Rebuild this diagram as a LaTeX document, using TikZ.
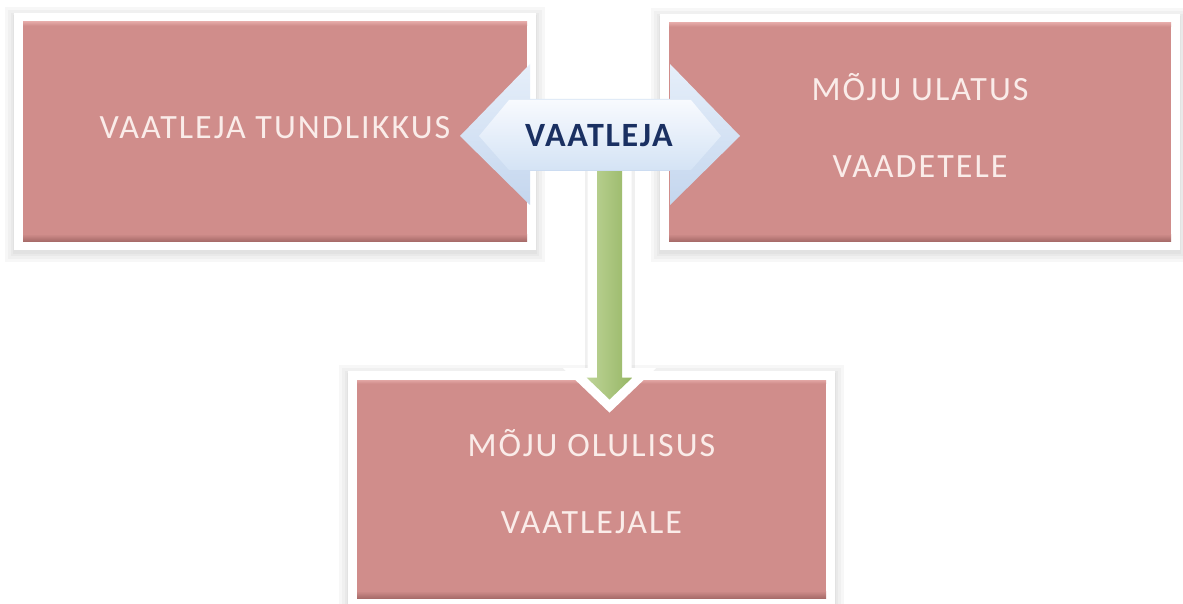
\documentclass[tikz,border=0pt]{standalone}
\usepackage{fontspec}
\setmainfont{Carlito}
\newfontfamily\boxfont[LetterSpace=6]{Carlito}
\newfontfamily\hubfont[LetterSpace=5]{Carlito}
\usetikzlibrary{calc}
\definecolor{boxpink}{RGB}{208,141,139}
\definecolor{boxpinkdark}{RGB}{168,108,106}
\definecolor{boxpinklight}{RGB}{226,166,164}
\definecolor{boxtext}{RGB}{250,236,233}
\definecolor{navy}{RGB}{26,48,98}
\definecolor{ablueT}{RGB}{230,239,250}
\definecolor{ablueB}{RGB}{196,214,238}
\definecolor{afaceT}{RGB}{248,250,254}
\definecolor{afaceB}{RGB}{212,227,245}
\definecolor{agreen}{RGB}{150,182,100}
\definecolor{agreenL}{RGB}{190,212,152}
\definecolor{shadowgray}{RGB}{110,110,110}
\tikzset{
  box/.style={draw=white, line width=9pt, fill=boxpink, inner sep=0pt, outer sep=0pt},
  boxtxt/.style={text=boxtext, font=\boxfont\fontsize{34}{77}\selectfont, align=center, inner sep=0pt},
  hubtxt/.style={text=navy, font=\hubfont\bfseries\fontsize{34}{36}\selectfont, inner sep=0pt},
  softshadow/.style={fill=shadowgray, opacity=0.05},
}
\begin{document}
\begin{tikzpicture}[x=1pt,y=-1pt]
\useasboundingbox (0,0) rectangle (1183,604);
\fill[white] (0,0) rectangle (1183,604);
% soft shadows of the boxes
\foreach \cx/\cy/\w/\h in {275/131.5/522/237, 920/132/520/236, 591.5/489/487/236}{
  \foreach \e in {9,6,3,1}{
    \fill[softshadow] ($(\cx,\cy)+(-\w/2-\e,-\h/2-\e+3)$) rectangle ($(\cx,\cy)+(\w/2+\e,\h/2+\e+3)$);
  }
}
% boxes
\node[box, minimum width=513pt, minimum height=228pt] (b1) at (275,131.5) {};
\node[box, minimum width=511pt, minimum height=227pt] (b2) at (920,132) {};
\node[box, minimum width=478pt, minimum height=227pt] (b3) at (591.5,489) {};
% bevel bands
\foreach \b in {b1,b2,b3}{
  \shade[top color=boxpink, bottom color=boxpinkdark] ($(\b.south west)+(4.5,-11.5)$) rectangle ($(\b.south east)+(-4.5,-4.5)$);
  \shade[top color=boxpinklight, bottom color=boxpink] ($(\b.north west)+(4.5,4.5)$) rectangle ($(\b.north east)+(-4.5,8)$);
}
% hub node
\node[hubtxt] (va) at (599,136) {VAATLEJA};
% green arrow (connector from hub to bottom box)
\coordinate (gtop) at ($(va)+(10.5,20)$);
\coordinate (gtip) at ($(b3.north)+(18,24)$);
\fill[shadowgray, opacity=0.10] ($(gtop)+(-25,0)$) rectangle ($(gtop|-gtip)+(25,-30)$);
\draw[white, line width=19pt, line join=miter]
  ($(gtop)+(-12.5,0)$) -- ($(gtop|-gtip)+(-12.5,-22)$) -- ($(gtop|-gtip)+(-23,-22)$) -- (gtip)
  -- ($(gtop|-gtip)+(23,-22)$) -- ($(gtop|-gtip)+(12.5,-22)$) -- ($(gtop)+(12.5,0)$) -- cycle;
\shade[left color=agreenL, right color=agreen]
  ($(gtop)+(-12.5,0)$) -- ($(gtop|-gtip)+(-12.5,-22)$) -- ($(gtop|-gtip)+(-23,-22)$) -- (gtip)
  -- ($(gtop|-gtip)+(23,-22)$) -- ($(gtop|-gtip)+(12.5,-22)$) -- ($(gtop)+(12.5,0)$) -- cycle;
% blue double arrow
\shade[top color=ablueT, bottom color=ablueB]
  ($(va)+(-139,0)$) -- ($(va)+(-69,-72)$) -- ($(va)+(-69,-37)$) -- ($(va)+(71,-37)$) -- ($(va)+(71,-72)$)
  -- ($(va)+(141,0)$) -- ($(va)+(71,69)$) -- ($(va)+(71,35)$) -- ($(va)+(-69,35)$) -- ($(va)+(-69,69)$) -- cycle;
\shade[top color=afaceT, bottom color=afaceB]
  ($(va)+(-120,0)$) -- ($(va)+(-90,-36)$) -- ($(va)+(92,-36)$) -- ($(va)+(122,0)$) -- ($(va)+(92,34)$) -- ($(va)+(-90,34)$) -- cycle;
\node[hubtxt] at (va) {VAATLEJA};
% box texts
\node[boxtxt] at ($(b1.center)+(0,-4)$) {VAATLEJA TUNDLIKKUS};
\node[boxtxt] at ($(b2.center)+(0,-7)$) {MÕJU ULATUS\\VAADETELE};
\node[boxtxt] at ($(b3.center)+(0,-7)$) {MÕJU OLULISUS\\VAATLEJALE};
\end{tikzpicture}
\end{document}
